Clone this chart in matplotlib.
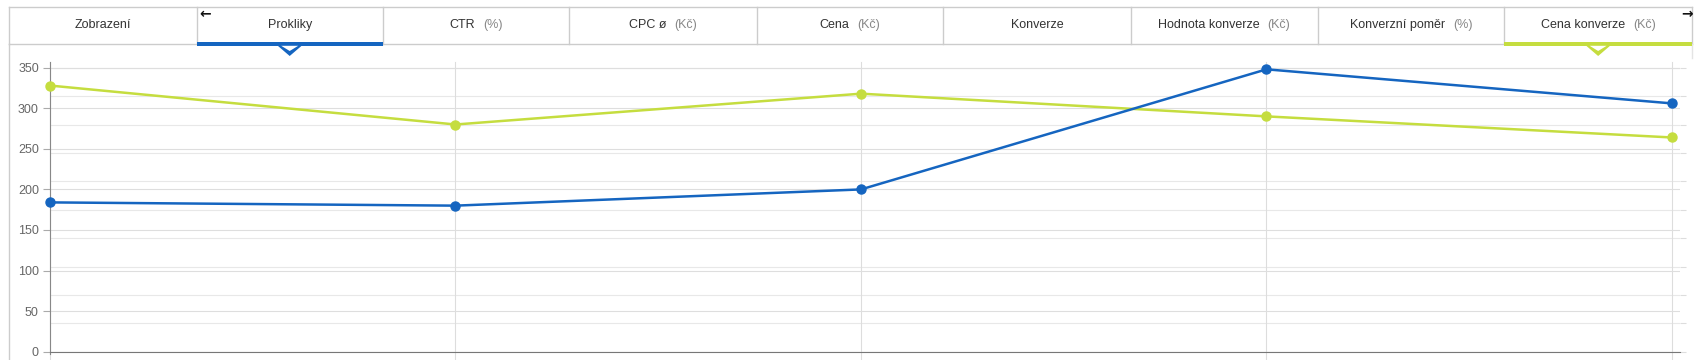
import matplotlib.pyplot as plt
from matplotlib.patches import Polygon, Rectangle

plt.rcParams['font.family'] = ['Liberation Sans', 'DejaVu Sans']

# --- data ---
tabs = ['Zobrazení', 'Prokliky', 'CTR', 'CPC ø', 'Cena', 'Konverze',
        'Hodnota konverze', 'Konverzní poměr', 'Cena konverze']
tab_units = ['', '', '(%)', '(Kč)', '(Kč)', '', '(Kč)', '(%)', '(Kč)']
prokliky = [184, 180, 200, 348, 306]
cena_konverze = [328, 280, 318, 290, 264]
y_ticks = [0, 50, 100, 150, 200, 250, 300, 350]

BLUE = '#1565c0'
GREEN = '#c5dd3f'
W, H = 1708, 360

fig = plt.figure(figsize=(W / 100, H / 100), dpi=100)

# chart area (pixel geometry)
x0, x1 = 50, 1680
y_top, y_bot = 62, 351.7
ax = fig.add_axes([x0 / W, (H - y_bot) / H, (x1 - x0) / W, (y_bot - y_top) / H])
n = len(prokliky)
step = (1672 - 50) / (n - 1)
ax.set_xlim(0, (n - 1) + (x1 - 1672) / step)
ax.set_ylim(0, (y_bot - y_top) / (284 / 350))

# secondary (unlabelled) grid from the hidden right axis
ax2 = ax.twinx()
ax2.set_ylim(0, ax.get_ylim()[1] / 35)
ax2.set_yticks(range(11))
ax2.tick_params(axis='y', length=4, color='#dddddd', labelright=False)
ax2.grid(axis='y', color='#e8e8e8', linewidth=0.8)
for s in ax2.spines.values():
    s.set_visible(False)
ax2.set_zorder(0)
ax.set_zorder(1)
ax.patch.set_visible(False)

ax.set_yticks(y_ticks)
ax.set_yticklabels([str(v) for v in y_ticks])
ax.tick_params(axis='y', length=5, color='#aaaaaa', labelcolor='#666666',
               labelsize=9, pad=3)
ax.set_xticks([])
ax.grid(axis='y', color='#dedede', linewidth=0.8)
for i in range(n):
    ax.axvline(i, ymin=-0.03, ymax=1, color='#dddddd', linewidth=0.8,
               clip_on=False, zorder=0)

for side in ['top', 'right']:
    ax.spines[side].set_visible(False)
ax.spines['left'].set_color('#888888')
ax.spines['left'].set_bounds(-3, ax.get_ylim()[1])
ax.spines['bottom'].set_color('#777777')

xs = list(range(n))
ax.plot(xs, cena_konverze, color=GREEN, linewidth=1.8, marker='o',
        markersize=6.5, clip_on=False, zorder=3)
ax.plot(xs, prokliky, color=BLUE, linewidth=1.8, marker='o',
        markersize=6.5, clip_on=False, zorder=4)

# --- tab strip drawn in pixel coordinates ---
ov = fig.add_axes([0, 0, 1, 1])
ov.set_xlim(0, W)
ov.set_ylim(H, 0)
ov.axis('off')

edges = [9.3, 196.7, 382.7, 569.3, 756.7, 943.3, 1130.7, 1317.7, 1504.3, 1692]
tab_top, tab_bot = 7.3, 44
line_c = '#cccccc'
selected = {1: BLUE, 8: GREEN}

ov.plot([edges[0], edges[-1]], [tab_top, tab_top], color=line_c, lw=1)
ov.plot([edges[0], edges[-1]], [tab_bot, tab_bot], color=line_c, lw=1)
for e in edges:
    ov.plot([e, e], [tab_top, tab_bot], color=line_c, lw=1)
ov.plot([edges[0], edges[0]], [tab_bot, H], color=line_c, lw=1)
ov.plot([edges[-1], edges[-1]], [tab_bot, 58], color='#e4e4e4', lw=1)

renderer = fig.canvas.get_renderer()
for i, (name, unit) in enumerate(zip(tabs, tab_units)):
    cx = (edges[i] + edges[i + 1]) / 2
    if i in selected:
        c = selected[i]
        ov.add_patch(Rectangle((edges[i], 41.5), edges[i + 1] - edges[i], 4.3,
                               color=c, lw=0, zorder=5))
        ov.add_patch(Polygon([(cx - 14, 44), (cx + 14, 44), (cx, 56)],
                             closed=True, color=c, lw=0, zorder=5))
        ov.add_patch(Polygon([(cx - 8.5, 45.8), (cx + 8.5, 45.8), (cx, 51)],
                             closed=True, color='white', lw=0, zorder=6))
    t1 = ov.text(0, 25, name, fontsize=9, color='#333333', va='center', ha='left')
    w1 = t1.get_window_extent(renderer).width
    if unit:
        t2 = ov.text(0, 25, unit, fontsize=9, color='#888888', va='center', ha='left')
        w2 = t2.get_window_extent(renderer).width
        gap = 8
        start = cx - (w1 + gap + w2) / 2
        t1.set_x(start)
        t2.set_x(start + w1 + gap)
    else:
        t1.set_x(cx - w1 / 2)

ov.text(199, 14, '←', fontsize=10, fontweight='bold', color='#111111',
        va='center', ha='left', family='DejaVu Sans')
ov.text(1693, 14, '→', fontsize=10, fontweight='bold', color='#111111',
        va='center', ha='right', family='DejaVu Sans')

fig.savefig('out.png', dpi=100)
